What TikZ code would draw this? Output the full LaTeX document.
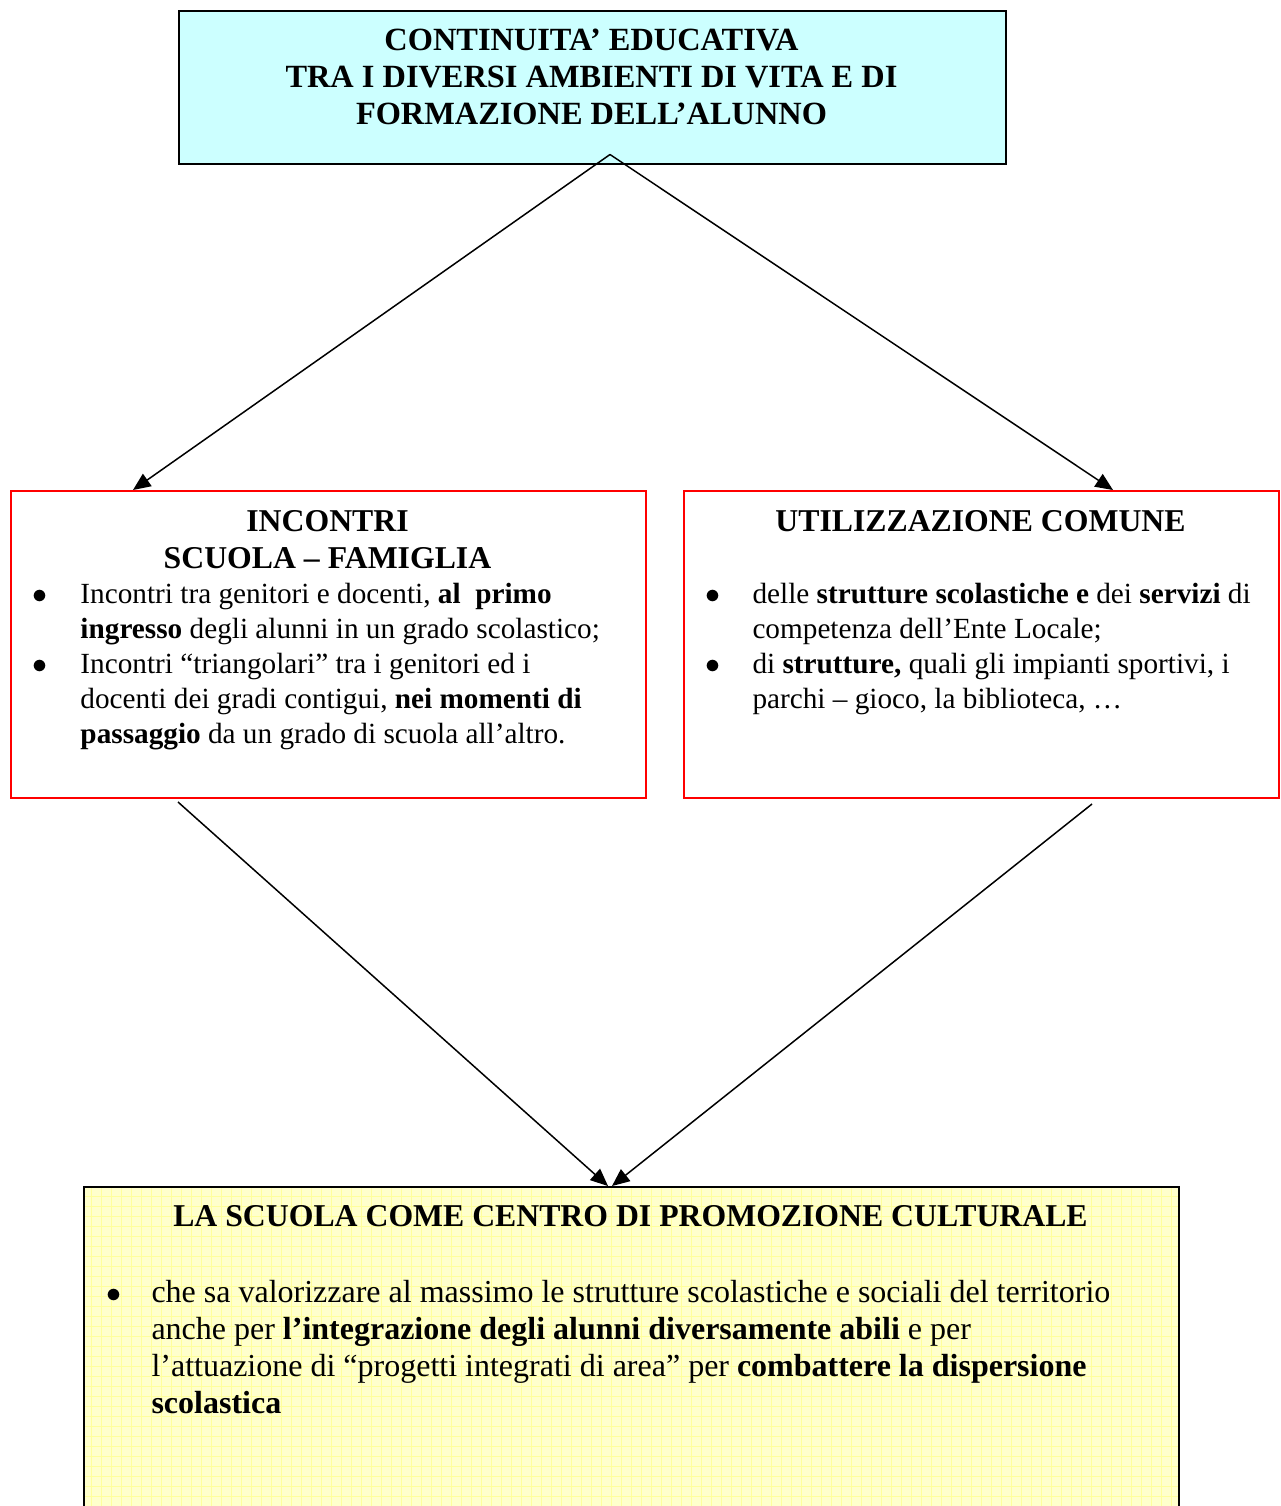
\documentclass[tikz,border=0pt]{standalone}
\usepackage{fontspec}
\setmainfont{Liberation Serif}
\usetikzlibrary{calc,arrows.meta}
\tikzset {>={Triangle[length=7pt,width=6pt]}}
\definecolor{celeste}{HTML}{CCFFFF}
\definecolor{paglia}{HTML}{FFFFCC}
\definecolor{pagliagrid}{HTML}{FFFF9C}
\tikzset{
  bluebox/.style={draw=black,line width=0.6pt,fill=celeste,inner sep=0pt},
  redbox/.style={draw=red,line width=0.8pt,inner sep=0pt},
  yellowbox/.style={draw=black,line width=0.6pt,fill=paglia,inner sep=0pt,
    path picture={\draw[pagliagrid,line width=0.3pt,step=4pt]
      (path picture bounding box.south west) grid (path picture bounding box.north east);}},
  freccia/.style={->,line width=0.6pt},
  testo/.style={inner sep=0pt,anchor=base west},
  titolo/.style={inner sep=0pt,anchor=base}
}
\newcommand*{\corpo}{\fontsize{11.7}{14}\selectfont}
\newcommand*{\corpogr}{\fontsize{12.8}{14.8}\selectfont}
\newcommand*{\titolo}{\fontsize{12.7}{14.8}\selectfont\bfseries}
\newcommand*{\titologr}{\fontsize{12.95}{14.8}\selectfont\bfseries}
\newcommand*{\pallino}{$\bullet$}

\begin{document}
\begin{tikzpicture}[x=0.4pt,y=-0.4pt]
\useasboundingbox (0,0) rectangle (1280,1506);
\node[bluebox,anchor=north west,minimum width=330.8pt,minimum height=61.2pt] (continuita) at (178,10) {};
\node[redbox,anchor=north west,minimum width=254pt,minimum height=122.8pt] (incontri) at (10,490) {};
\node[redbox,anchor=north west,minimum width=238pt,minimum height=122.8pt] (utilizzo) at (683,490) {};
\node[yellowbox,anchor=north west,minimum width=438pt,minimum height=136pt] (scuola) at (83,1186) {};
\node[titolo,font=\titologr] (continuita title) at (591.5,50) {\begin{tabular}[t]{@{}c@{}}
CONTINUITA’ EDUCATIVA\\
TRA I DIVERSI AMBIENTI DI VITA E DI\\
FORMAZIONE DELL’ALUNNO
\end{tabular}};
\node[titolo,font=\titolo] (incontri title) at (327.5,531) {\begin{tabular}[t]{@{}c@{}}
INCONTRI\\
SCUOLA – FAMIGLIA
\end{tabular}};
\node[titolo,font=\titolo] (utilizzo title) at (980.5,531) {UTILIZZAZIONE COMUNE};
\node[titolo,font=\titolo] (scuola title) at (630.5,1226) {LA SCUOLA COME CENTRO DI PROMOZIONE CULTURALE};
\node[testo,font=\corpo] (incontri list) at (32,603) {\begin{tabular}[t]{@{}p{19.2pt}@{}l@{}}
\pallino & Incontri tra genitori e docenti, \textbf{al\ \ primo}\\
 & \textbf{ingresso} degli alunni in un grado scolastico;\\
\pallino & Incontri “triangolari” tra i genitori ed i\\
 & docenti dei gradi contigui, \textbf{nei momenti di}\\
 & \textbf{passaggio} da un grado di scuola all’altro.
\end{tabular}};
\node[testo,font=\corpo] (utilizzo list) at (705,603) {\begin{tabular}[t]{@{}p{18.8pt}@{}l@{}}
\pallino & delle \textbf{strutture scolastiche e} dei \textbf{servizi} di\\
 & competenza dell’Ente Locale;\\
\pallino & di \textbf{strutture,} quali gli impianti sportivi, i\\
 & parchi – gioco, la biblioteca, …
\end{tabular}};
\node[testo,font=\corpogr] (scuola list) at (106,1302) {\begin{tabular}[t]{@{}p{18pt}@{}l@{}}
\pallino & che sa valorizzare al massimo le strutture scolastiche e sociali del territorio\\
 & anche per \textbf{l’integrazione degli alunni diversamente abili} e per\\
 & l’attuazione di “progetti integrati di area” per \textbf{combattere la dispersione}\\
 & \textbf{scolastica}
\end{tabular}};
\coordinate (apex) at ($(continuita.south west)+(432,-10)$);
\coordinate (incontri foot) at ($(incontri.south west)+(168,3)$);
\coordinate (utilizzo foot) at ($(utilizzo.south west)+(409,5)$);
\draw[freccia] (apex) -- ($(incontri.north west)+(123,0)$);
\draw[freccia] (apex) -- ($(utilizzo.north west)+(430,0)$);
\draw[freccia] (incontri foot) -- ($(scuola.north west)+(525,0)$);
\draw[freccia] (utilizzo foot) -- ($(scuola.north west)+(529,0)$);
\end{tikzpicture}
\end{document}
